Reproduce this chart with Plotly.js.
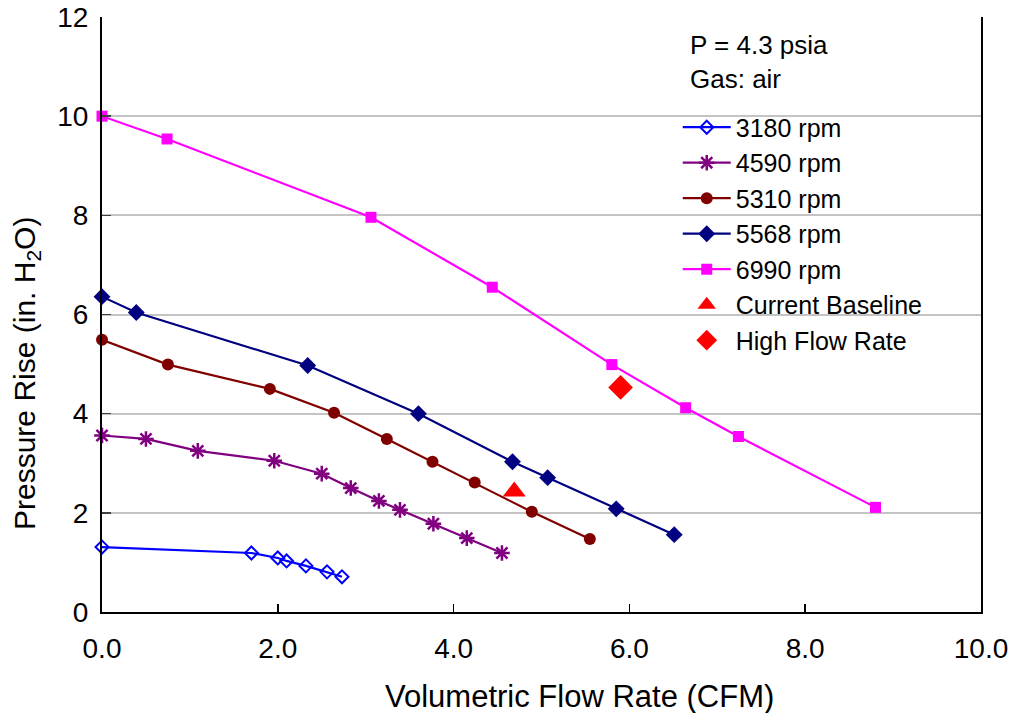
<!DOCTYPE html>
<html>
<head>
<meta charset="utf-8">
<script src="https://cdn.plot.ly/plotly-3.0.1.min.js"></script>
<style>
  html, body { margin: 0; padding: 0; background: #ffffff; }
  #chart { width: 1021px; height: 713px; }
</style>
</head>
<body>
<div id="chart"></div>
<script>
// ---- data ----
const seriesNames = ["3180 rpm", "4590 rpm", "5310 rpm", "5568 rpm", "6990 rpm"];

const flow3180 = [0.0, 1.70, 2.00, 2.10, 2.32, 2.56, 2.73];
const rise3180 = [1.31, 1.19, 1.09, 1.03, 0.93, 0.81, 0.71];

const flow4590 = [0.0, 0.50, 1.09, 1.96, 2.50, 2.83, 3.15, 3.39, 3.77, 4.15, 4.55];
const rise4590 = [3.56, 3.49, 3.25, 3.05, 2.79, 2.50, 2.24, 2.06, 1.78, 1.49, 1.19];

const flow5310 = [0.0, 0.75, 1.91, 2.64, 3.24, 3.76, 4.24, 4.89, 5.55];
const rise5310 = [5.49, 4.99, 4.50, 4.02, 3.49, 3.03, 2.61, 2.02, 1.47];

const flow5568 = [0.0, 0.39, 2.34, 3.60, 4.67, 5.07, 5.85, 6.51];
const rise5568 = [6.36, 6.04, 4.97, 4.00, 3.03, 2.71, 2.08, 1.56];

const flow6990 = [0.0, 0.74, 3.06, 4.44, 5.80, 6.64, 7.24, 8.80];
const rise6990 = [10.0, 9.54, 7.96, 6.55, 4.99, 4.12, 3.54, 2.11];

const baselineFlow = [4.69];
const baselineRise = [2.43];

const highFlow = [5.90];
const highRise = [4.53];

const xTickVals = [0, 2, 4, 6, 8, 10];
const xTickText = ["0.0", "2.0", "4.0", "6.0", "8.0", "10.0"];
const yTickVals = [0, 2, 4, 6, 8, 10, 12];

const xTitle = "Volumetric Flow Rate (CFM)";
const yTitle = "Pressure Rise (in. H<sub>2</sub>O)";
const noteLines = ["P = 4.3 psia", "Gas: air"];

// ---- styles ----
const FONT = "Arial, 'Liberation Sans', Helvetica, sans-serif";

function lineTrace(name, x, y, color, symbol, size, mlw) {
  return {
    type: "scatter",
    mode: "lines+markers",
    name: name,
    x: x,
    y: y,
    line: { color: color, width: 2.2 },
    marker: { symbol: symbol, size: size, color: color, line: { color: color, width: mlw } },
    cliponaxis: false
  };
}

const traces = [
  lineTrace(seriesNames[0], flow3180, rise3180, "#0000ff", "diamond-open", 10, 2),
  lineTrace(seriesNames[1], flow4590, rise4590, "#800080", "asterisk-open", 13, 2.5),
  lineTrace(seriesNames[2], flow5310, rise5310, "#800000", "circle", 12, 0),
  lineTrace(seriesNames[3], flow5568, rise5568, "#000080", "diamond", 13, 0),
  lineTrace(seriesNames[4], flow6990, rise6990, "#ff00ff", "square", 11, 0),
  {
    type: "scatter", mode: "markers", name: "Current Baseline",
    x: baselineFlow, y: baselineRise,
    marker: { symbol: "triangle-up", size: 20, color: "#ff0000" }
  },
  {
    type: "scatter", mode: "markers", name: "High Flow Rate",
    x: highFlow, y: highRise,
    marker: { symbol: "diamond", size: 19, color: "#ff0000" }
  }
];

function px2paperX(px) { return (px - 102) / 879; }
function px2paperY(py) { return (612 - py) / 595; }

const layout = {
  width: 1021,
  height: 713,
  paper_bgcolor: "#ffffff",
  plot_bgcolor: "#ffffff",
  margin: { l: 102, r: 40, t: 17, b: 101 },
  font: { family: FONT, color: "#000000", size: 28 },
  showlegend: true,
  legend: {
    x: 0.655, y: 0.853, xanchor: "left", yanchor: "top",
    bgcolor: "rgba(0,0,0,0)",
    font: { family: FONT, size: 25, color: "#000000" },
    tracegroupgap: 0,
    itemwidth: 48
  },
  xaxis: {
    range: [0, 10],
    tickvals: xTickVals,
    ticktext: xTickText,
    ticks: "inside",
    ticklen: 8,
    tickwidth: 1.5,
    tickcolor: "#000000",
    showline: true,
    linecolor: "#000000",
    linewidth: 2,
    showgrid: false,
    zeroline: false,
    ticklabelstandoff: 10,
    tickfont: { family: FONT, size: 28, color: "#000000" }
  },
  yaxis: {
    range: [0, 12],
    tickvals: yTickVals,
    ticks: "inside",
    ticklen: 9,
    tickwidth: 1.5,
    tickcolor: "#404040",
    showline: true,
    mirror: true,
    linecolor: "#000000",
    linewidth: 2,
    showgrid: true,
    gridcolor: "#c4c4c4",
    gridwidth: 2,
    zeroline: false,
    ticklabelstandoff: 6,
    tickfont: { family: FONT, size: 28, color: "#000000" }
  },
  annotations: [
    {
      xref: "paper", yref: "paper",
      x: px2paperX(579), y: px2paperY(696), xanchor: "center", yanchor: "middle",
      showarrow: false, text: xTitle,
      font: { family: FONT, size: 31, color: "#000000" }
    },
    {
      xref: "paper", yref: "paper",
      x: px2paperX(26), y: px2paperY(374), xanchor: "center", yanchor: "middle",
      textangle: -90,
      showarrow: false, text: yTitle,
      font: { family: FONT, size: 30, color: "#000000" }
    },
    {
      xref: "paper", yref: "paper",
      x: px2paperX(688), y: px2paperY(62), xanchor: "left", yanchor: "middle",
      align: "left",
      showarrow: false, text: noteLines.join("<br>"),
      font: { family: FONT, size: 26, color: "#000000" }
    }
  ]
};

Plotly.newPlot("chart", traces, layout, { displayModeBar: false, staticPlot: true });
</script>
</body>
</html>
